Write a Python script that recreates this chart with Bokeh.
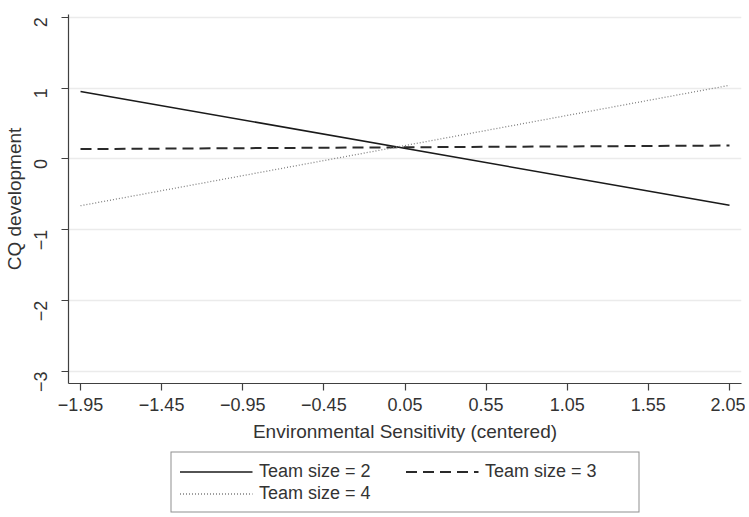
from bokeh.plotting import figure
from bokeh.models import (Range1d, FixedTicker, CustomJSTickFormatter, Legend, LegendItem)
from bokeh.layouts import column
from bokeh.embed import file_html
from bokeh.resources import INLINE
import math

# ---- data ----
x_vals = [-1.95, 2.05]
team2 = [0.953, -0.654]
team3 = [0.14, 0.19]
team4 = [-0.66, 1.04]
x_ticks = [-1.95, -1.45, -0.95, -0.45, 0.05, 0.55, 1.05, 1.55, 2.05]
y_ticks = [-3, -2, -1, 0, 1, 2]
series_labels = ["Team size = 2", "Team size = 3", "Team size = 4"]

FONT = "Liberation Sans"
STYLES = [
    dict(line_color="#1a1a1a", line_width=1.6),
    dict(line_color="#2a2a2a", line_width=2, line_dash="11 6"),
    dict(line_color="#808080", line_width=1.3, line_dash="1 2"),
]

W = 745
p = figure(width=W, height=448, output_backend="svg", toolbar_location=None,
           x_range=Range1d(-2.024, 2.124), y_range=Range1d(-3.17, 2.04),
           min_border_left=66, min_border_top=14, min_border_right=4, min_border_bottom=65)
p.background_fill_color = "white"
p.border_fill_color = "white"
p.outline_line_color = None

p.line(x_vals, team2, **STYLES[0])
p.line(x_vals, team3, **STYLES[1])
p.line(x_vals, team4, **STYLES[2])

# axes
p.xaxis.ticker = FixedTicker(ticks=x_ticks)
p.yaxis.ticker = FixedTicker(ticks=y_ticks)
p.xaxis.formatter = CustomJSTickFormatter(code="return tick.toFixed(2).replace('-', '\\u2212');")
p.yaxis.formatter = CustomJSTickFormatter(code="return tick.toFixed(0).replace('-', '\\u2212');")
p.yaxis.major_label_orientation = math.pi / 2
for ax in (p.xaxis, p.yaxis):
    ax.axis_line_color = "#404040"
    ax.axis_line_width = 1.2
    ax.major_tick_line_color = "#404040"
    ax.major_tick_line_width = 1.2
    ax.major_tick_out = 7
    ax.major_tick_in = 0
    ax.minor_tick_line_color = None
    ax.major_label_text_font = FONT
    ax.major_label_text_font_size = "18px"
    ax.major_label_text_color = "#333333"
    ax.axis_label_text_font = FONT
    ax.axis_label_text_font_size = "19px"
    ax.axis_label_text_font_style = "normal"
    ax.axis_label_text_color = "#333333"
p.xaxis.axis_label = "Environmental Sensitivity (centered)"
p.yaxis.axis_label = "CQ development"
p.xaxis.major_label_standoff = 7
p.xaxis.axis_label_standoff = 7
p.yaxis.major_label_standoff = 21
p.yaxis.axis_label_standoff = 0

p.xgrid.grid_line_color = None
p.ygrid.grid_line_color = "#ebebeb"
p.ygrid.grid_line_width = 1.5

# ---- legend in its own strip below ----
lf = figure(width=W, height=68, output_backend="svg", toolbar_location=None,
            x_range=Range1d(100, 101), y_range=Range1d(100, 101),
            x_axis_type=None, y_axis_type=None,
            min_border_left=66, min_border_right=4, min_border_top=1, min_border_bottom=1)
lf.outline_line_color = None
lf.background_fill_color = "white"
lf.border_fill_color = "white"
lf.xgrid.visible = False
lf.ygrid.visible = False
# legend sample lines (same series, drawn out of this strip's view)
l2 = lf.line(x_vals, team2, **STYLES[0])
l3 = lf.line(x_vals, team3, **STYLES[1])
l4 = lf.line(x_vals, team4, **STYLES[2])

# column-major filling: col 1 = (2, 4), col 2 = (3)
legend = Legend(items=[LegendItem(label=series_labels[0], renderers=[l2]),
                       LegendItem(label=series_labels[2], renderers=[l4]),
                       LegendItem(label=series_labels[1], renderers=[l3])],
                ncols=2, location="center")
legend.glyph_width = 73
legend.glyph_height = 20
legend.label_standoff = 7
legend.label_width = 145
legend.label_height = 20
legend.spacing = 1
legend.padding = 8
legend.margin = 0
legend.label_text_font = FONT
legend.label_text_font_size = "18px"
legend.label_text_color = "#333333"
legend.border_line_color = "#222222"
legend.border_line_width = 1
legend.background_fill_color = "white"
legend.background_fill_alpha = 1
lf.add_layout(legend, "center")

open("out.html", "w").write(file_html(column(p, lf), INLINE))
